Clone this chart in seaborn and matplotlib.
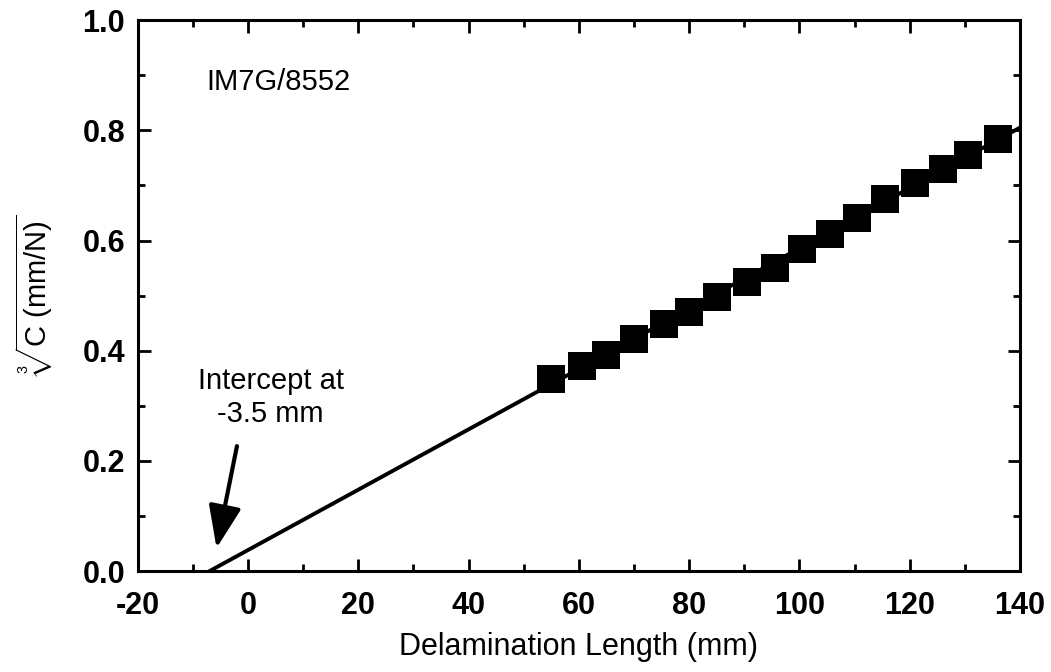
import seaborn as sns
import pandas as pd
import matplotlib
matplotlib.use('Agg')
import matplotlib.pyplot as plt
import matplotlib.ticker as ticker

# data
delam_length = [55, 60.5, 65, 70, 75.5, 80, 85, 90.5, 95.5, 100.5,
                 105.5, 110.5, 115.5, 121, 126, 130.5, 136]
cube_root_c = [0.348, 0.373, 0.392, 0.421, 0.448, 0.471, 0.497, 0.525, 0.551,
               0.585, 0.612, 0.641, 0.675, 0.704, 0.730, 0.756, 0.784]
fit_x = [-7.0, 140.0]
fit_y = [0.0, 0.805]
xticks = [-20, 0, 20, 40, 60, 80, 100, 120, 140]
yticks = [0.0, 0.2, 0.4, 0.6, 0.8, 1.0]

sns.set_theme(style='ticks')
plt.rcParams['font.family'] = ['Liberation Sans', 'DejaVu Sans']
plt.rcParams['mathtext.fontset'] = 'custom'
plt.rcParams['mathtext.rm'] = 'Liberation Sans'
plt.rcParams['mathtext.it'] = 'Liberation Sans:italic'
plt.rcParams['mathtext.bf'] = 'Liberation Sans:bold'
plt.rcParams['axes.unicode_minus'] = False
plt.rcParams['text.color'] = 'black'
plt.rcParams['axes.labelcolor'] = 'black'
plt.rcParams['xtick.color'] = 'black'
plt.rcParams['ytick.color'] = 'black'

df = pd.DataFrame({'x': delam_length, 'y': cube_root_c})
fit = pd.DataFrame({'x': fit_x, 'y': fit_y})

fig = plt.figure(figsize=(10.51, 6.72), dpi=100)
ax = fig.add_subplot(111)
fig.subplots_adjust(left=0.131, right=0.9705, top=0.970, bottom=0.150)

sns.lineplot(data=fit, x='x', y='y', color='black', linewidth=2.8, ax=ax)
sns.scatterplot(data=df, x='x', y='y', marker='s', s=400, color='black',
                edgecolor='black', linewidth=0, ax=ax, zorder=3)

ax.set_xlim(-20, 140)
ax.set_ylim(0, 1.0)
ax.set_xticks(xticks)
ax.set_yticks(yticks)
ax.xaxis.set_minor_locator(ticker.MultipleLocator(10))
ax.yaxis.set_minor_locator(ticker.MultipleLocator(0.1))
ax.yaxis.set_major_formatter(ticker.FormatStrFormatter('%.1f'))

ax.tick_params(which='both', direction='in', top=True, right=True,
               width=2, color='black', labelcolor='black')
ax.tick_params(which='major', length=9)
ax.tick_params(which='minor', length=5)
ax.tick_params(axis='x', which='major', pad=14, labelsize=22)
ax.tick_params(axis='y', which='major', pad=9, labelsize=22)
for lab in ax.get_xticklabels() + ax.get_yticklabels():
    lab.set_fontweight('bold')

for sp in ax.spines.values():
    sp.set_linewidth(2.2)
    sp.set_color('black')

ax.set_xlabel('Delamination Length (mm)', fontsize=22, labelpad=8,
              color='black')
ax.set_ylabel(r'$\sqrt[3]{\mathrm{C\ (mm/N)}}$', fontsize=21, labelpad=20,
              color='black')

ax.text(-7.5, 0.887, 'IM7G/8552', fontsize=21, ha='left', va='center',
        color='black')
ax.text(4.1, 0.315, 'Intercept at\n-3.5 mm', fontsize=21, ha='center',
        va='center', multialignment='center', color='black')
ax.annotate('', xy=(-5.7, 0.042), xytext=(-2.0, 0.227),
            arrowprops=dict(arrowstyle='-|>,head_length=1.3,head_width=0.5',
                            mutation_scale=20, lw=3, color='black',
                            shrinkA=0, shrinkB=0))

fig.savefig('out.png', dpi=100, facecolor='white')
